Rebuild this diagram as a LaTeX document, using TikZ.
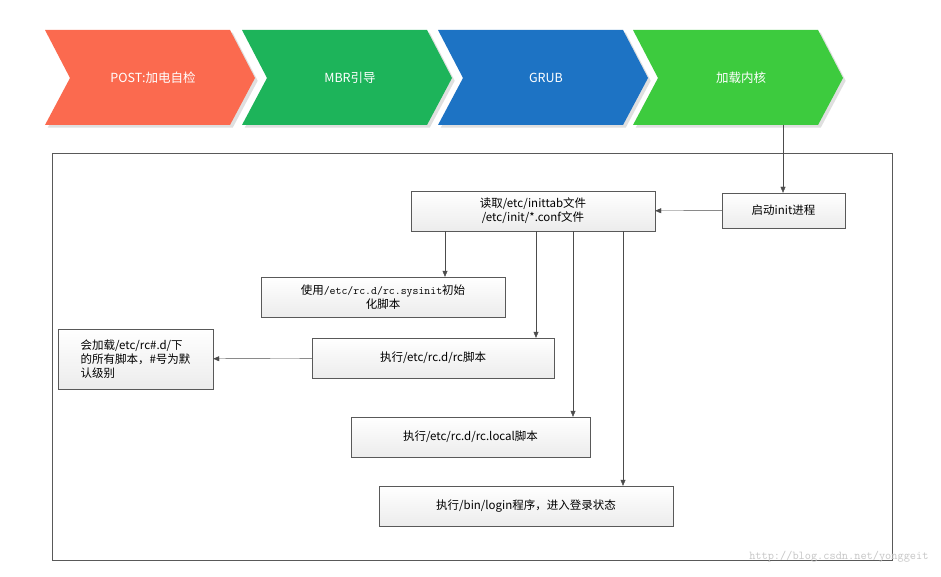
\documentclass[tikz,border=0pt]{standalone}
\usepackage{fontspec}
\setmainfont{Noto Sans CJK SC}
\usetikzlibrary{arrows.meta,shadows}
\definecolor{cred}{HTML}{FB6A4F}
\definecolor{cgreen}{HTML}{1DB45A}
\definecolor{cblue}{HTML}{1D73C4}
\definecolor{clgreen}{HTML}{3DCB3E}
\begin{document}
\begin{tikzpicture}[x=1pt,y=-1pt,font=\fontsize{11.5}{14}\selectfont,
 box/.style={draw=gray!70!black,top color=white,bottom color=gray!15,inner sep=0pt,align=center,drop shadow={shadow xshift=1pt,shadow yshift=-1pt,opacity=0.25}},
 arr/.style={draw=gray!60!black,-{Triangle[length=6pt,width=5pt]}},
 chev/.style={text=white,font=\fontsize{12.5}{14}\selectfont}]
\useasboundingbox (0,0) rectangle (941,577);
\fill[white] (0,0) rectangle (941,577);
\foreach \x/\c/\t/\n in {45/cred/{POST:加电自检}/c1,242/cgreen/{MBR引导}/c2,438/cblue/{GRUB}/c3,633/clgreen/{加载内核}/c4}{
 \fill[\c,drop shadow={opacity=0.25}] (\x,30) -- (\x+185,30) -- (\x+210,78) -- (\x+185,125) -- (\x,125) -- (\x+25,78) -- cycle;
 \node[chev] (\n) at (\x+108,78) {\t};
}
\coordinate (k) at (783,125);
\draw[gray!70!black,fill=white] (52,153) rectangle (892,560);
\node[box,minimum width=123pt,minimum height=35pt] (init) at (783.5,210.5) {启动init进程};
\node[box,minimum width=244pt,minimum height=40pt] (read) at (533,211) {读取/etc/inittab文件\\/etc/init/*.conf文件};
\node[box,minimum width=244pt,minimum height=40pt] (sys) at (383,297) {使用{\ttfamily /etc/rc.d/rc.sysinit}初始\\化脚本};
\node[box,minimum width=155pt,minimum height=60pt,align=left] (all) at (135.5,359) {会加载/etc/rc\#.d/下\\的所有脚本，\#号为默\\认级别};
\node[box,minimum width=242pt,minimum height=40pt] (rc) at (433,358) {执行/etc/rc.d/rc脚本};
\node[box,minimum width=239pt,minimum height=40pt] (loc) at (470.5,437) {执行/etc/rc.d/rc.local脚本};
\node[box,minimum width=294pt,minimum height=40pt] (log) at (526,506) {执行/bin/login程序，进入登录状态};
\draw[arr] (k) -- (init.north -| k);
\draw[arr] (init) -- (read);
\draw[arr] (read.south -| 445,0) -- (sys.north -| 445,0);
\draw[arr] (read.south -| 536,0) -- (rc.north -| 536,0);
\draw[arr] (read.south -| 573,0) -- (loc.north -| 573,0);
\draw[arr] (read.south -| 623,0) -- (log.north -| 623,0);
\draw[arr] (rc) -- (all);
\node[text=gray!45,font=\ttfamily\fontsize{12}{14}\selectfont,anchor=east] (wm) at (932,557) {http://blog.csdn.net/yonggeit};
\end{tikzpicture}
\end{document}
